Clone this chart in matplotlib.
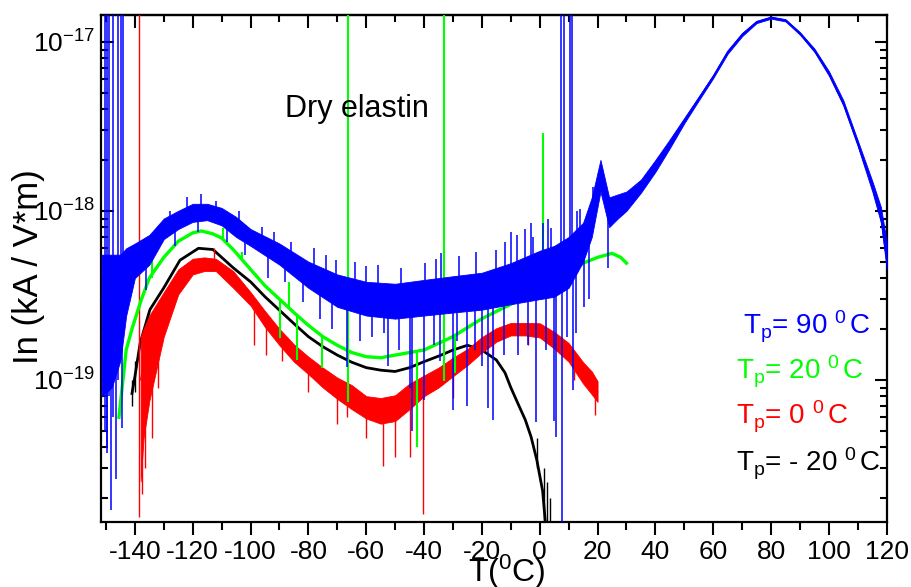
import numpy as np
import matplotlib
matplotlib.use("Agg")
import matplotlib.pyplot as plt
from matplotlib.ticker import MultipleLocator, LogLocator, NullFormatter

plt.rcParams['font.family'] = ['Liberation Sans', 'DejaVu Sans']
plt.rcParams['mathtext.fontset'] = 'custom'
plt.rcParams['mathtext.rm'] = 'Liberation Sans'
plt.rcParams['mathtext.it'] = 'Liberation Sans:italic'
plt.rcParams['mathtext.bf'] = 'Liberation Sans:bold'
plt.rcParams['axes.unicode_minus'] = False

# all current values below are in units of 1e-19 kA/(V*m)
unit = 1e-19

# Tp = 90 C (blue): temperature, centre, lower and upper edge of the dense noise band
blue_T = [-151.5, -148, -145, -143, -140, -135, -130, -125, -120, -115, -110, -105, -100,
          -90, -80, -70, -60, -50, -40, -30, -20, -10, 0, 5, 10, 15, 18, 21, 24, 27, 30,
          35, 40, 45, 50, 55, 60, 65, 70, 75, 80, 85, 90, 95, 100, 105, 110, 115, 118, 120]
blue_mid = [3.0, 3.5, 3.5, 4.0, 5.0, 5.8, 7.7, 8.7, 9.8, 9.9, 9.2, 8.0, 7.0,
            5.6, 4.2, 3.4, 3.0, 2.9, 3.0, 3.2, 3.3, 3.7, 4.2, 4.5, 5.0, 6.5, 9.0, 17, 10, 10.5, 11.5,
            14, 18.5, 25, 34, 46, 62, 87, 110, 131, 139, 134, 112, 89, 65, 43, 25, 14, 9.2, 5.2]
blue_lo = [0.8, 0.9, 1.3, 2.4, 4.0, 4.8, 6.8, 7.8, 8.6, 8.8, 8.2, 7.0, 6.2,
           4.8, 3.5, 2.7, 2.4, 2.3, 2.4, 2.5, 2.6, 2.8, 3.0, 3.1, 3.5, 5.0, 7.0, 13, 8.0, 9.0, 10.0,
           12.8, 17.0, 23.5, 33, 45, 61, 85, 108, 129, 137, 132, 110, 87, 63, 42, 24, 13, 8.5, 4.5]
blue_hi = [5.5, 5.5, 5.5, 6.0, 6.4, 7.2, 9.0, 10.0, 11.0, 11.0, 10.4, 9.2, 7.8,
           6.4, 5.0, 4.2, 3.8, 3.7, 3.9, 4.1, 4.3, 4.9, 5.8, 6.2, 7.0, 8.5, 12, 20, 12, 12.5, 13.0,
           15.3, 20, 26.5, 35.5, 47.5, 64, 89, 113, 133, 141, 136, 114, 91, 67, 45, 26, 15, 10.5, 6.5]
# isolated spikes: temperature, bottom and top of each spike
blue_spk_T = [-150.3, -149.5, -148.8, -147.4, -145.7, -144.9, -144.2, -149.7, -148.3, -146.5,
              -144.5, -70.3, -66.7, -60.0, -52.5, -45.0, -44.0, -40.0, -39.7, -30.0, -25.0,
              -18.0, -16.2, -15.0, -8.0, -7.6, -2.4, -1.4, 4.0, 4.8, 5.8, 7.5, 7.8, 8.5, 10.5,
              11.2, 11.5, 13.8, 15.2, 18.3, 23.5,
              -128, -122, -117, -112, -104, -96, -92, -86, -78, -74, -64, -56, -48, -36, -34,
              -28, -22, -12, -10, -5, -3, 1, 3, 13,
              -136, -126, -118, -108, -102, -94, -88, -82, -76, -72, -62, -58, -54, -48.5,
              -36.5, -34.5, -28.5, -22.5, -20, -12.5, -4, 2, 9.5, 12.5, 17]
blue_spk_lo = [0.5, 0.4, 0.8, 0.6, 1.0, 1.5, 2.0, 0.37, 0.17, 0.26,
               0.52, 3.4, 1.19, 3.0, 1.2, 0.9, 0.5, 0.76, 3.0, 0.66, 0.7,
               0.68, 0.58, 3.3, 3.7, 1.4, 4.0, 0.56, 4.4, 0.57, 0.46, 4.5, 0.1, 4.8, 5.0,
               5.0, 0.87, 6.0, 2.7, 9.0, 4.6,
               8.0, 9.5, 10, 9.5, 8.5, 6.5, 6.0, 5.0, 4.2, 3.8, 3.2, 3.0, 2.9, 3.1, 3.1,
               3.2, 3.3, 3.7, 3.8, 4.0, 4.1, 4.3, 4.4, 6.0,
               3.4, 6.2, 7.5, 6.5, 5.5, 4.0, 3.8, 2.9, 2.3, 2.0, 1.7, 1.8, 1.9, 1.5,
               1.6, 1.3, 1.7, 1.5, 1.2, 1.4, 1.6, 1.5, 1.8, 1.9, 3.0]
blue_spk_hi = [300, 300, 300, 300, 300, 300, 300, 3.0, 3.5, 3.5,
               3.5, 5.1, 3.2, 4.7, 2.9, 2.9, 3.0, 3.0, 4.9, 3.2, 3.2,
               3.3, 3.3, 5.9, 7.2, 3.7, 7.0, 4.1, 7.9, 4.5, 4.5, 300, 4.8, 300, 300,
               300, 5.0, 10.3, 6.5, 13.8, 10.0,
               10, 12, 12.5, 11.5, 10, 8, 7.5, 6.5, 6.0, 5.5, 5.0, 4.8, 4.6, 5.2, 5.6,
               5.4, 5.7, 6.5, 7.5, 7.8, 8.5, 8.5, 9.0, 10,
               5.8, 8.7, 9.8, 9.0, 7.5, 6.0, 5.3, 4.3, 3.6, 3.3, 3.0, 2.9, 2.9, 2.9,
               3.1, 3.1, 3.2, 3.3, 3.3, 3.7, 4.0, 4.3, 5.0, 5.8, 7.0]

# Tp = 20 C (green)
green_T = [-145.5, -143, -141, -138, -135, -130, -125, -120, -117, -113, -110, -106, -100,
           -95, -90, -85, -80, -75, -70, -65, -60, -55, -50, -45, -40, -30, -20, -10,
           0, 10, 15, 20, 25, 28, 30]
green_mid = [0.6, 1.5, 2.0, 2.9, 4.0, 5.3, 6.6, 7.4, 7.6, 7.3, 6.9, 5.9, 4.5,
             3.6, 3.0, 2.5, 2.1, 1.8, 1.6, 1.45, 1.37, 1.35, 1.4, 1.45, 1.5, 1.8, 2.3, 2.8,
             3.5, 4.3, 4.9, 5.3, 5.6, 5.3, 4.9]
green_spk_T = [-134.0, -109.5, -103.0, -89.8, -86.7, -84.0, -75.3, -66.3, -42.6, -33.2, -29.4, 1.0]
green_spk_lo = [4.0, 6.9, 5.2, 1.77, 2.7, 1.31, 1.17, 0.74, 0.4, 0.98, 1.1, 3.5]
green_spk_hi = [5.7, 7.9, 5.7, 3.0, 3.8, 2.4, 1.8, 300, 1.45, 300, 1.8, 29]

# Tp = 0 C (red)
red_T = [-138, -137, -135, -130, -125, -120, -116, -112, -106, -100, -95, -90, -85, -80,
         -75, -70, -65, -60, -55, -50, -45, -40, -35, -30, -25, -20, -15, -10, -5,
         0, 5, 10, 15, 18, 20]
red_mid = [1.0, 1.2, 1.6, 2.6, 3.8, 4.6, 4.9, 4.8, 3.9, 3.0, 2.3, 1.8, 1.45, 1.22,
           1.05, 0.9, 0.79, 0.69, 0.66, 0.69, 0.8, 0.92, 1.03, 1.2, 1.37, 1.62, 1.85, 2.0, 2.0,
           1.97, 1.72, 1.45, 1.1, 0.96, 0.85]
red_lo = [0.25, 0.45, 0.75, 1.8, 3.2, 4.2, 4.4, 4.4, 3.5, 2.75, 2.05, 1.6, 1.28, 1.08,
          0.9, 0.77, 0.67, 0.59, 0.55, 0.57, 0.67, 0.8, 0.9, 1.05, 1.22, 1.45, 1.68, 1.83, 1.83,
          1.78, 1.53, 1.28, 0.95, 0.82, 0.74]
red_hi = [1.8, 2.0, 2.4, 3.3, 4.5, 5.2, 5.3, 5.2, 4.4, 3.3, 2.55, 2.0, 1.62, 1.37,
          1.18, 1.03, 0.93, 0.8, 0.78, 0.81, 0.95, 1.06, 1.18, 1.35, 1.52, 1.79, 2.02, 2.17, 2.17,
          2.16, 1.92, 1.65, 1.27, 1.12, 0.98]
red_spk_T = [-138.5, -137.6, -136.5, -134, -132, -112.6, -98.8, -94.8, -89.0, -66.8, -54.2, -50.0,
             -45.0, -40.3, -30.0, -60, -70, -80, -16, -4, 12, 19]
red_spk_lo = [0.155, 0.21, 0.3, 0.45, 0.9, 4.8, 1.6, 1.4, 1.3, 0.6, 0.31, 0.35,
              0.35, 0.16, 0.78, 0.45, 0.55, 0.85, 1.4, 1.6, 1.0, 0.62]
red_spk_hi = [300, 1.2, 1.8, 2.2, 2.7, 6.0, 2.9, 2.3, 1.8, 0.8, 0.66, 0.69,
              0.8, 0.92, 1.2, 0.7, 0.9, 1.2, 1.9, 2.0, 1.4, 0.9]

# Tp = -20 C (black)
black_T = [-141, -140, -138.2, -134.8, -130, -124.4, -118, -113, -106, -100, -95, -90, -85,
           -80, -75, -70, -65, -60, -55, -50, -45, -40, -35, -30, -25, -20, -15, -12, -10,
           -7, -5, -3, -1, 1, 2]
black_mid = [0.83, 1.04, 1.64, 2.6, 3.5, 5.1, 6.0, 5.9, 4.6, 3.8, 3.1, 2.58, 2.15,
             1.8, 1.57, 1.4, 1.27, 1.18, 1.14, 1.12, 1.18, 1.28, 1.38, 1.5, 1.6, 1.5, 1.31, 1.1, 0.9,
             0.69, 0.58, 0.46, 0.335, 0.22, 0.14]
black_spk_T = [-141.0, -139.8, -1.0, 1.5, 2.5, 3.5]
black_spk_lo = [0.7, 0.85, 0.3, 0.1, 0.1, 0.12]
black_spk_hi = [1.0, 1.3, 0.45, 0.3, 0.25, 0.2]

labels = ['T$_{\\rm p}$= 90 $^{\\rm 0}\\,$C', 'T$_{\\rm p}$= 20 $^{\\rm 0}\\,$C',
          'T$_{\\rm p}$= 0 $^{\\rm 0}\\,$C', 'T$_{\\rm p}$= - 20 $^{\\rm 0}\\,$C']
colors = ['#0000ff', '#00ff00', '#ff0000', '#000000']


def arr(v):
    return np.asarray(v, dtype=float) * unit


fig = plt.figure(figsize=(9.11, 5.87), dpi=100)
ax = fig.add_axes([0.1109, 0.1107, 0.8628, 0.8637])

# black
ax.plot(black_T, arr(black_mid), color=colors[3], lw=2.0, zorder=2)
ax.vlines(black_spk_T, arr(black_spk_lo), arr(black_spk_hi), color=colors[3], lw=1.0, zorder=2)

# red
ax.fill_between(red_T, arr(red_lo), arr(red_hi), color=colors[2], lw=0.6, zorder=3)
ax.plot(red_T, arr(red_mid), color=colors[2], lw=1.0, zorder=3)
ax.vlines(red_spk_T, arr(red_spk_lo), arr(red_spk_hi), color=colors[2], lw=1.0, zorder=3)

# green
ax.plot(green_T, arr(green_mid), color=colors[1], lw=2.4, zorder=4)
ax.vlines(green_spk_T, arr(green_spk_lo), arr(green_spk_hi), color=colors[1], lw=1.5, zorder=4)

# blue
ax.fill_between(blue_T, arr(blue_lo), arr(blue_hi), color=colors[0], lw=0.6, zorder=5)
ax.plot(blue_T, arr(blue_mid), color=colors[0], lw=1.2, zorder=5)
ax.vlines(blue_spk_T, arr(blue_spk_lo), arr(blue_spk_hi), color=colors[0], lw=1.1, zorder=5)

ax.set_yscale('log')
ax.set_xlim(-151.7, 120.1)
ax.set_ylim(1.44e-20, 1.44e-17)

for s in ax.spines.values():
    s.set_linewidth(1.6)

ax.xaxis.set_major_locator(MultipleLocator(20))
ax.xaxis.set_minor_locator(MultipleLocator(10))
ax.yaxis.set_major_locator(LogLocator(base=10))
ax.yaxis.set_minor_locator(LogLocator(base=10, subs=np.arange(2, 10)))
ax.yaxis.set_minor_formatter(NullFormatter())
ax.tick_params(axis='x', which='both', direction='out', top=False, labelsize=19, width=1.5, pad=4)
ax.tick_params(axis='x', which='major', length=9)
ax.tick_params(axis='x', which='minor', length=6)
ax.tick_params(axis='y', which='both', direction='in', right=True, labelsize=19, width=1.5, pad=4)
ax.tick_params(axis='y', which='major', length=9)
ax.tick_params(axis='y', which='minor', length=5)

top = ax.secondary_xaxis('top')
top.xaxis.set_major_locator(MultipleLocator(20))
top.xaxis.set_minor_locator(MultipleLocator(10))
top.tick_params(which='both', direction='in', labeltop=False, width=1.5)
top.tick_params(which='major', length=9)
top.tick_params(which='minor', length=5)
top.spines['top'].set_linewidth(1.6)

fig.text(0.3128, 0.8007, 'Dry elastin', fontsize=22, ha='left', va='baseline')

label_x = [0.8156, 0.808, 0.808, 0.808]
label_y = [0.431, 0.3538, 0.276, 0.1964]
for lab, c, lx, ly in zip(labels, colors, label_x, label_y):
    fig.text(lx, ly, lab, color=c, fontsize=20, ha='left', va='baseline')

fig.text(0.5137, 0.008, 'T($^{\\rm 0}$C)', fontsize=23, ha='left', va='baseline')
fig.text(0.031, 0.545, 'In (kA / V*m)', fontsize=25, rotation=90, ha='center', va='center')

fig.savefig('out.png', dpi=100)
